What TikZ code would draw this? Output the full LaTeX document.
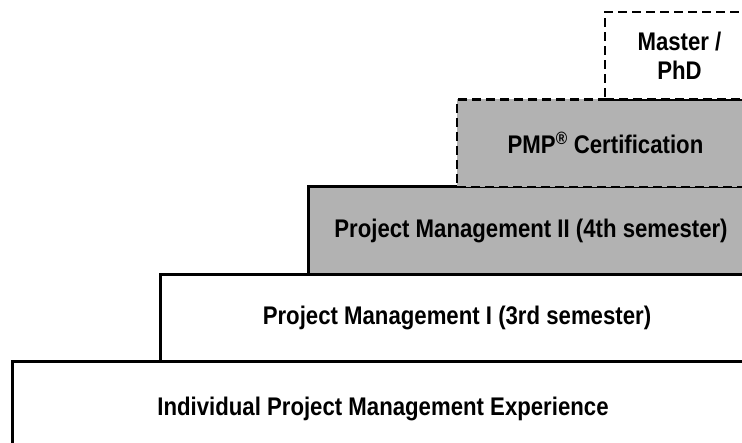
\documentclass[tikz,border=0pt]{standalone}
\usepackage{fontspec}
\newfontfamily\stepfont{Liberation Sans}[FakeStretch=0.87]
\usetikzlibrary{positioning}
\tikzstyle{level} = [rectangle, minimum height=87.5pt, text centered, align=center, inner sep=0pt, outer sep=0pt, draw=black, line width=3pt, fill=white, font=\stepfont\bfseries\fontsize{25.5}{29}\selectfont]
\tikzstyle{course} = [level, fill=black!30]
\tikzstyle{option} = [line width=2.6pt, dash pattern=on 9pt off 5pt]

\begin{document}
\begin{tikzpicture}[x=1pt, y=-1pt]
    \clip (0,0) rectangle (742,443);

    % Steps
    \node (experience) [level, minimum width=742pt, minimum height=94pt, anchor=north east] at (754,362) {Individual Project Management Experience};
    \node (pmone) [level, minimum width=594pt, anchor=south east] at (experience.north east) {Project Management I (3rd semester)};
    \node (pmtwo) [course, minimum width=446pt, anchor=south east] at (pmone.north east) {Project Management II (4th semester)};
    \node (pmp) [course, option, minimum width=297pt, anchor=south east] at (pmtwo.north east) {PMP\textsuperscript{\textregistered} Certification};
    \node (phd) [level, option, minimum width=149pt, anchor=south east] at (pmp.north east) {Master /\\PhD};
\end{tikzpicture}
\end{document}
